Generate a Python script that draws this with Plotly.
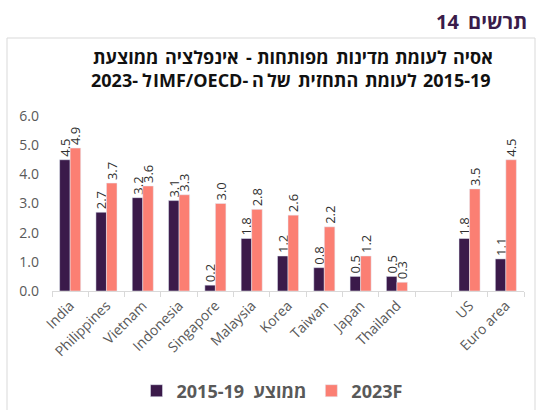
import plotly.graph_objects as go

categories = ["India", "Philippines", "Vietnam", "Indonesia", "Singapore", "Malaysia",
              "Korea", "Taiwan", "Japan", "Thailand", " ", "US", "Euro area"]
avg_2015_19 = [4.5, 2.7, 3.2, 3.1, 0.2, 1.8, 1.2, 0.8, 0.5, 0.5, None, 1.8, 1.1]
forecast_2023 = [4.9, 3.7, 3.6, 3.3, 3.0, 2.8, 2.6, 2.2, 1.2, 0.3, None, 3.5, 4.5]
y_ticks = [0, 1, 2, 3, 4, 5, 6]

series_names = ["2015-19  ממוצע", "2023F"]

# title words, in right-to-left reading order (placed word by word below)
heading_words = ["תרשים", "14"]
title_line1_words = ["אסיה", "לעומת", "מדינות", "מפותחות", "-", "אינפלציה", "ממוצעת"]
title_line2_words = ["2015-19", "לעומת", "התחזית", "של", "ה", "IMF/OECD-", "ל", "2023-"]

DARK = "#3B1A4A"
PINK = "#FB7F73"
GRAY = "#595959"
FONT = "Open Sans, Liberation Sans, DejaVu Sans, sans-serif"

L, T, PW, PH = 52, 116, 472, 175


def px_x(x):
    return (x - L) / PW


def px_y(y):
    return 1 - (y - T) / PH


def fmt(v):
    return "" if v is None else f"{v:.1f}"


fig = go.Figure()
for name, vals, col in [(series_names[0], avg_2015_19, DARK), (series_names[1], forecast_2023, PINK)]:
    fig.add_trace(go.Bar(
        x=categories, y=vals, name=name, marker_color=col,
        text=[fmt(v) for v in vals], textposition="outside", textangle=-90,
        constraintext="none",
        textfont=dict(size=13, color="#303030", family=FONT), cliponaxis=False,
    ))

fig.update_layout(
    width=538, height=410,
    margin=dict(l=L, r=538 - L - PW, t=T, b=410 - T - PH),
    paper_bgcolor="white", plot_bgcolor="white",
    barmode="group", bargap=0.42, bargroupgap=0,
    font=dict(family=FONT, color=GRAY),
    showlegend=True,
    legend=dict(
        orientation="h", xref="container", x=272 / 538, xanchor="center",
        yref="container", y=1 - 391 / 410, yanchor="middle",
        font=dict(size=18, color=GRAY, family=FONT, weight="bold"),
        traceorder="normal",
    ),
)

fig.update_xaxes(
    type="category", showgrid=False, showline=True, linecolor="#D9D9D9", linewidth=1,
    ticks="outside", tickson="boundaries", ticklen=5, tickcolor="#D9D9D9",
    tickangle=-45, tickfont=dict(size=14, color=GRAY, family=FONT),
)
fig.update_yaxes(
    range=[0, 6], tickvals=y_ticks, tickformat=".1f", showgrid=False, zeroline=False,
    showline=False, ticks="", tickfont=dict(size=14, color=GRAY, family=FONT),
    ticklabelstandoff=12,
)


def word(txt, x, y, anchor, size, color):
    fig.add_annotation(
        text=txt, xref="paper", yref="paper", x=px_x(x), y=px_y(y),
        xanchor=anchor, yanchor="middle", showarrow=False,
        font=dict(size=size, color=color, family=FONT, weight="bold"),
    )


# heading, read right to left
head_layout = [(529, "right"), (461, "right")]
for w, (x, a) in zip(heading_words, head_layout):
    word(w, x, 21, a, 20, "#3A1C4A")

# two-line chart title, right-to-left word placement
line1_layout = [(472.5, "center"), (421, "center"), (362, "center"), (293, "center"),
                (249, "center"), (202, "center"), (126, "center")]
for w, (x, a) in zip(title_line1_words, line1_layout):
    word(w, x, 57, a, 18, "#111111")

line2_layout = [(456.5, "center"), (391.4, "center"), (328.3, "center"), (279.4, "center"),
                (250.4, "left"), (250.4, "right"), (139.8, "left"), (139.8, "right")]
for w, (x, a) in zip(title_line2_words, line2_layout):
    word(w, x, 80, a, 18, "#111111")

fig.add_shape(
    type="rect", xref="paper", yref="paper",
    x0=px_x(7), x1=px_x(535), y0=px_y(420), y1=px_y(38),
    line=dict(color="#D9D9D9", width=1), fillcolor="rgba(0,0,0,0)", layer="below",
)

fig.write_html("out.html", config={"displayModeBar": False},
               post_script="document.body.style.margin='0';")
